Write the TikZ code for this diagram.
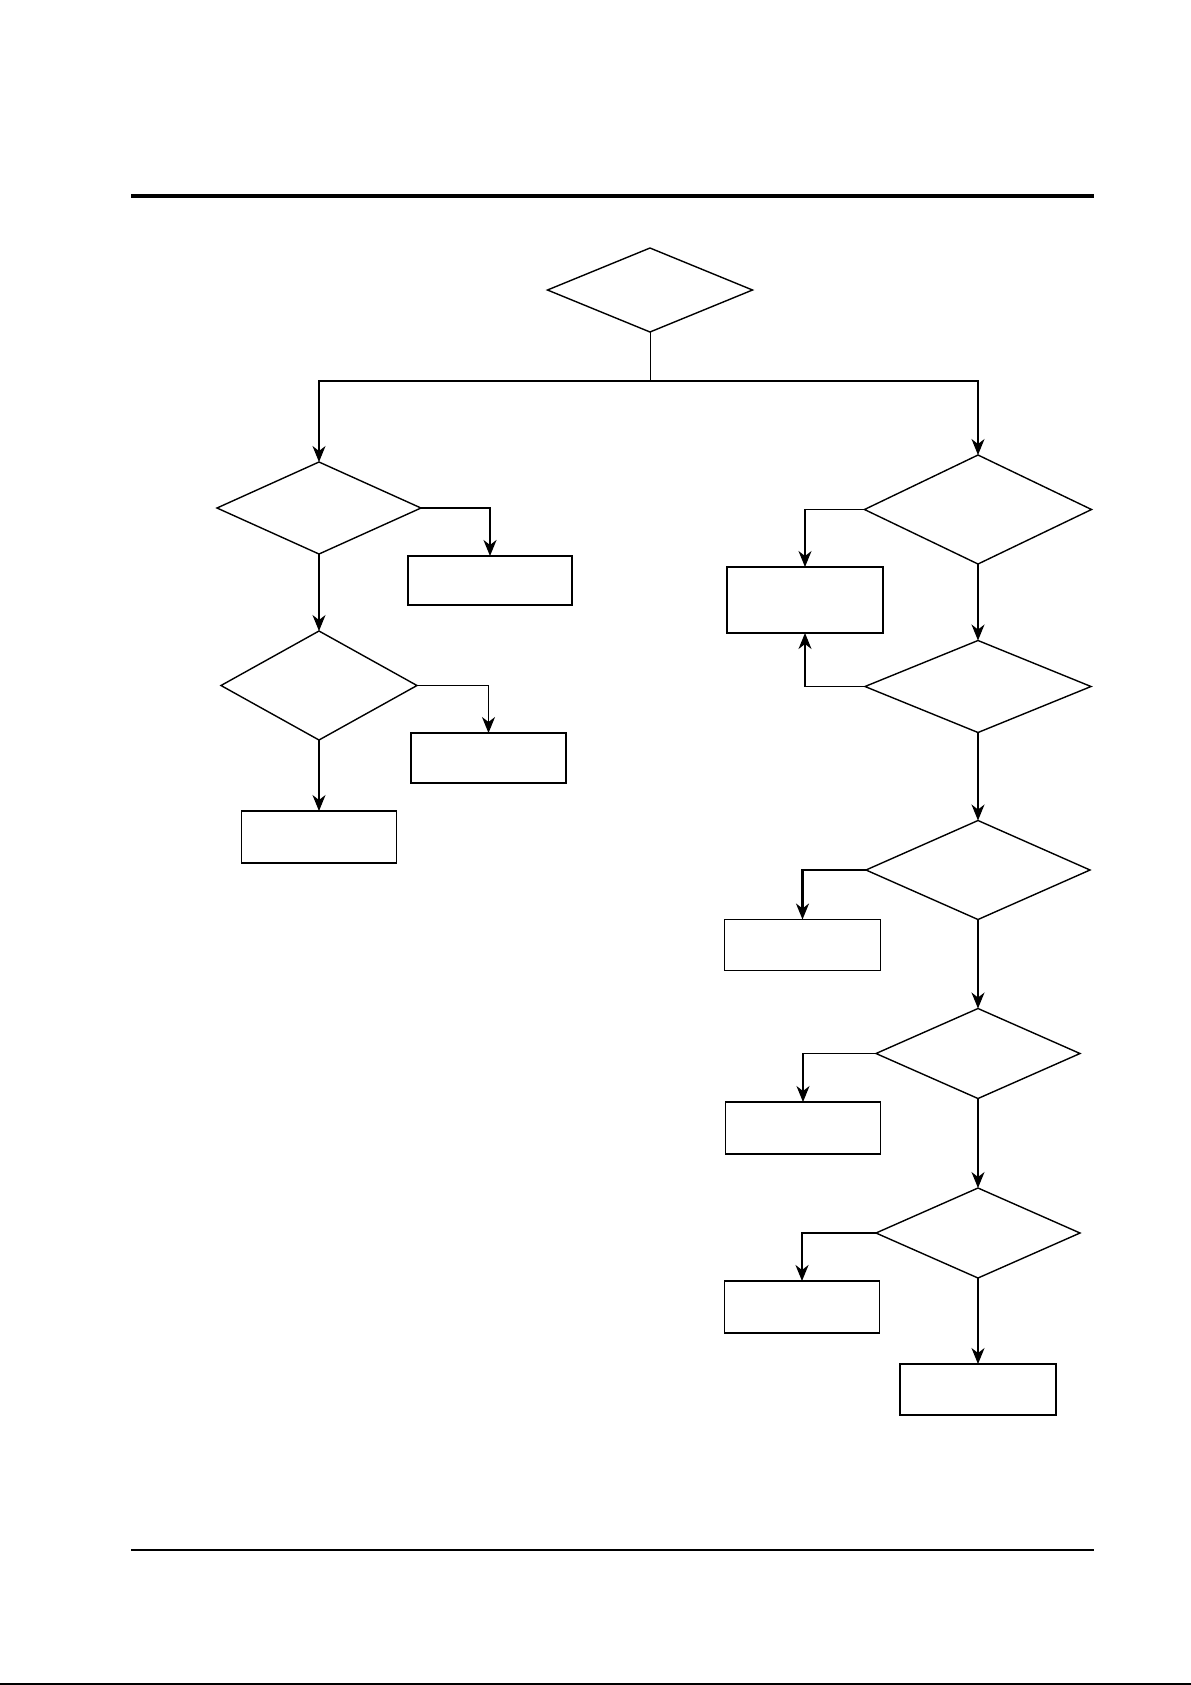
\documentclass[tikz,border=0pt]{standalone}
\usetikzlibrary{shapes.geometric,arrows.meta}

\tikzset{
  dia/.style={draw, diamond, line width=.7bp, inner sep=0pt, outer sep=0pt},
  blk/.style={draw, rectangle, line width=.7bp, inner sep=0pt, outer sep=0pt},
  arr/.style={line width=.55bp, -{Stealth[length=8bp, width=6.5bp, inset=2.5bp]}},
  arrthick/.style={arr, line width=1.1bp}
}

\begin{document}
\begin{tikzpicture}[x=.5bp, y=-.5bp]
\useasboundingbox (0,0) rectangle (1191,1685);

% page rules
\draw[line width=2bp] (131,196) -- (1094,196);
\draw[line width=1bp] (131,1550) -- (1094,1550);
\draw[line width=1bp] (0,1684) -- (1191,1684);

\node[dia, minimum width=102.5bp, minimum height=42bp] (start) at (650,290) {};

\node[dia, minimum width=102bp, minimum height=46bp] (qa) at (319,508) {};
\node[blk, minimum width=82bp, minimum height=24.5bp] (ra) at (490,580.5) {};
\node[dia, minimum width=98bp, minimum height=54.5bp] (qb) at (319,685.5) {};
\node[blk, minimum width=77.5bp, minimum height=25bp] (rb) at (488.5,758) {};
\node[blk, minimum width=77.5bp, minimum height=26bp] (rc) at (319,837) {};

\node[dia, minimum width=113.5bp, minimum height=54.5bp] (q1) at (978,509.5) {};
\node[blk, minimum width=78bp, minimum height=33bp] (r1) at (805,600) {};
\node[dia, minimum width=113bp, minimum height=46bp] (q2) at (978,686.5) {};
\node[dia, minimum width=112bp, minimum height=49.5bp] (q3) at (978,870) {};
\node[blk, minimum width=78bp, minimum height=25.5bp] (r3) at (802.5,945) {};
\node[dia, minimum width=102bp, minimum height=45bp] (q4) at (978,1053.5) {};
\node[blk, minimum width=77.5bp, minimum height=26bp] (r4) at (803,1128) {};
\node[dia, minimum width=102bp, minimum height=45bp] (q5) at (978,1233) {};
\node[blk, minimum width=77.5bp, minimum height=26bp] (r5) at (802,1307) {};
\node[blk, minimum width=78bp, minimum height=25.5bp] (r6) at (978,1389.5) {};

\coordinate (split) at (650,381);
\draw[line width=.5bp] (start.south) -- (split);
\draw[arr] (split) -| (qa.north);
\draw[arr] (split) -| (q1.north);

\draw[arrthick] (qa.east) -| (ra.north);
\draw[arr] (qa.south) -- (qb.north);
\draw[arr] (qb.east) -| (rb.north);
\draw[arr] (qb.south) -- (rc.north);

\draw[arr] (q1.west) -| (r1.north);
\draw[arr] (q1.south) -- (q2.north);
\draw[arr] (q2.west) -| (r1.south);
\draw[arr] (q2.south) -- (q3.north);
\draw[arrthick] (q3.west) -| (r3.north);
\draw[arr] (q3.south) -- (q4.north);
\draw[arr] (q4.west) -| (r4.north);
\draw[arr] (q4.south) -- (q5.north);
\draw[arrthick] (q5.west) -| (r5.north);
\draw[arr] (q5.south) -- (r6.north);

\end{tikzpicture}
\end{document}
